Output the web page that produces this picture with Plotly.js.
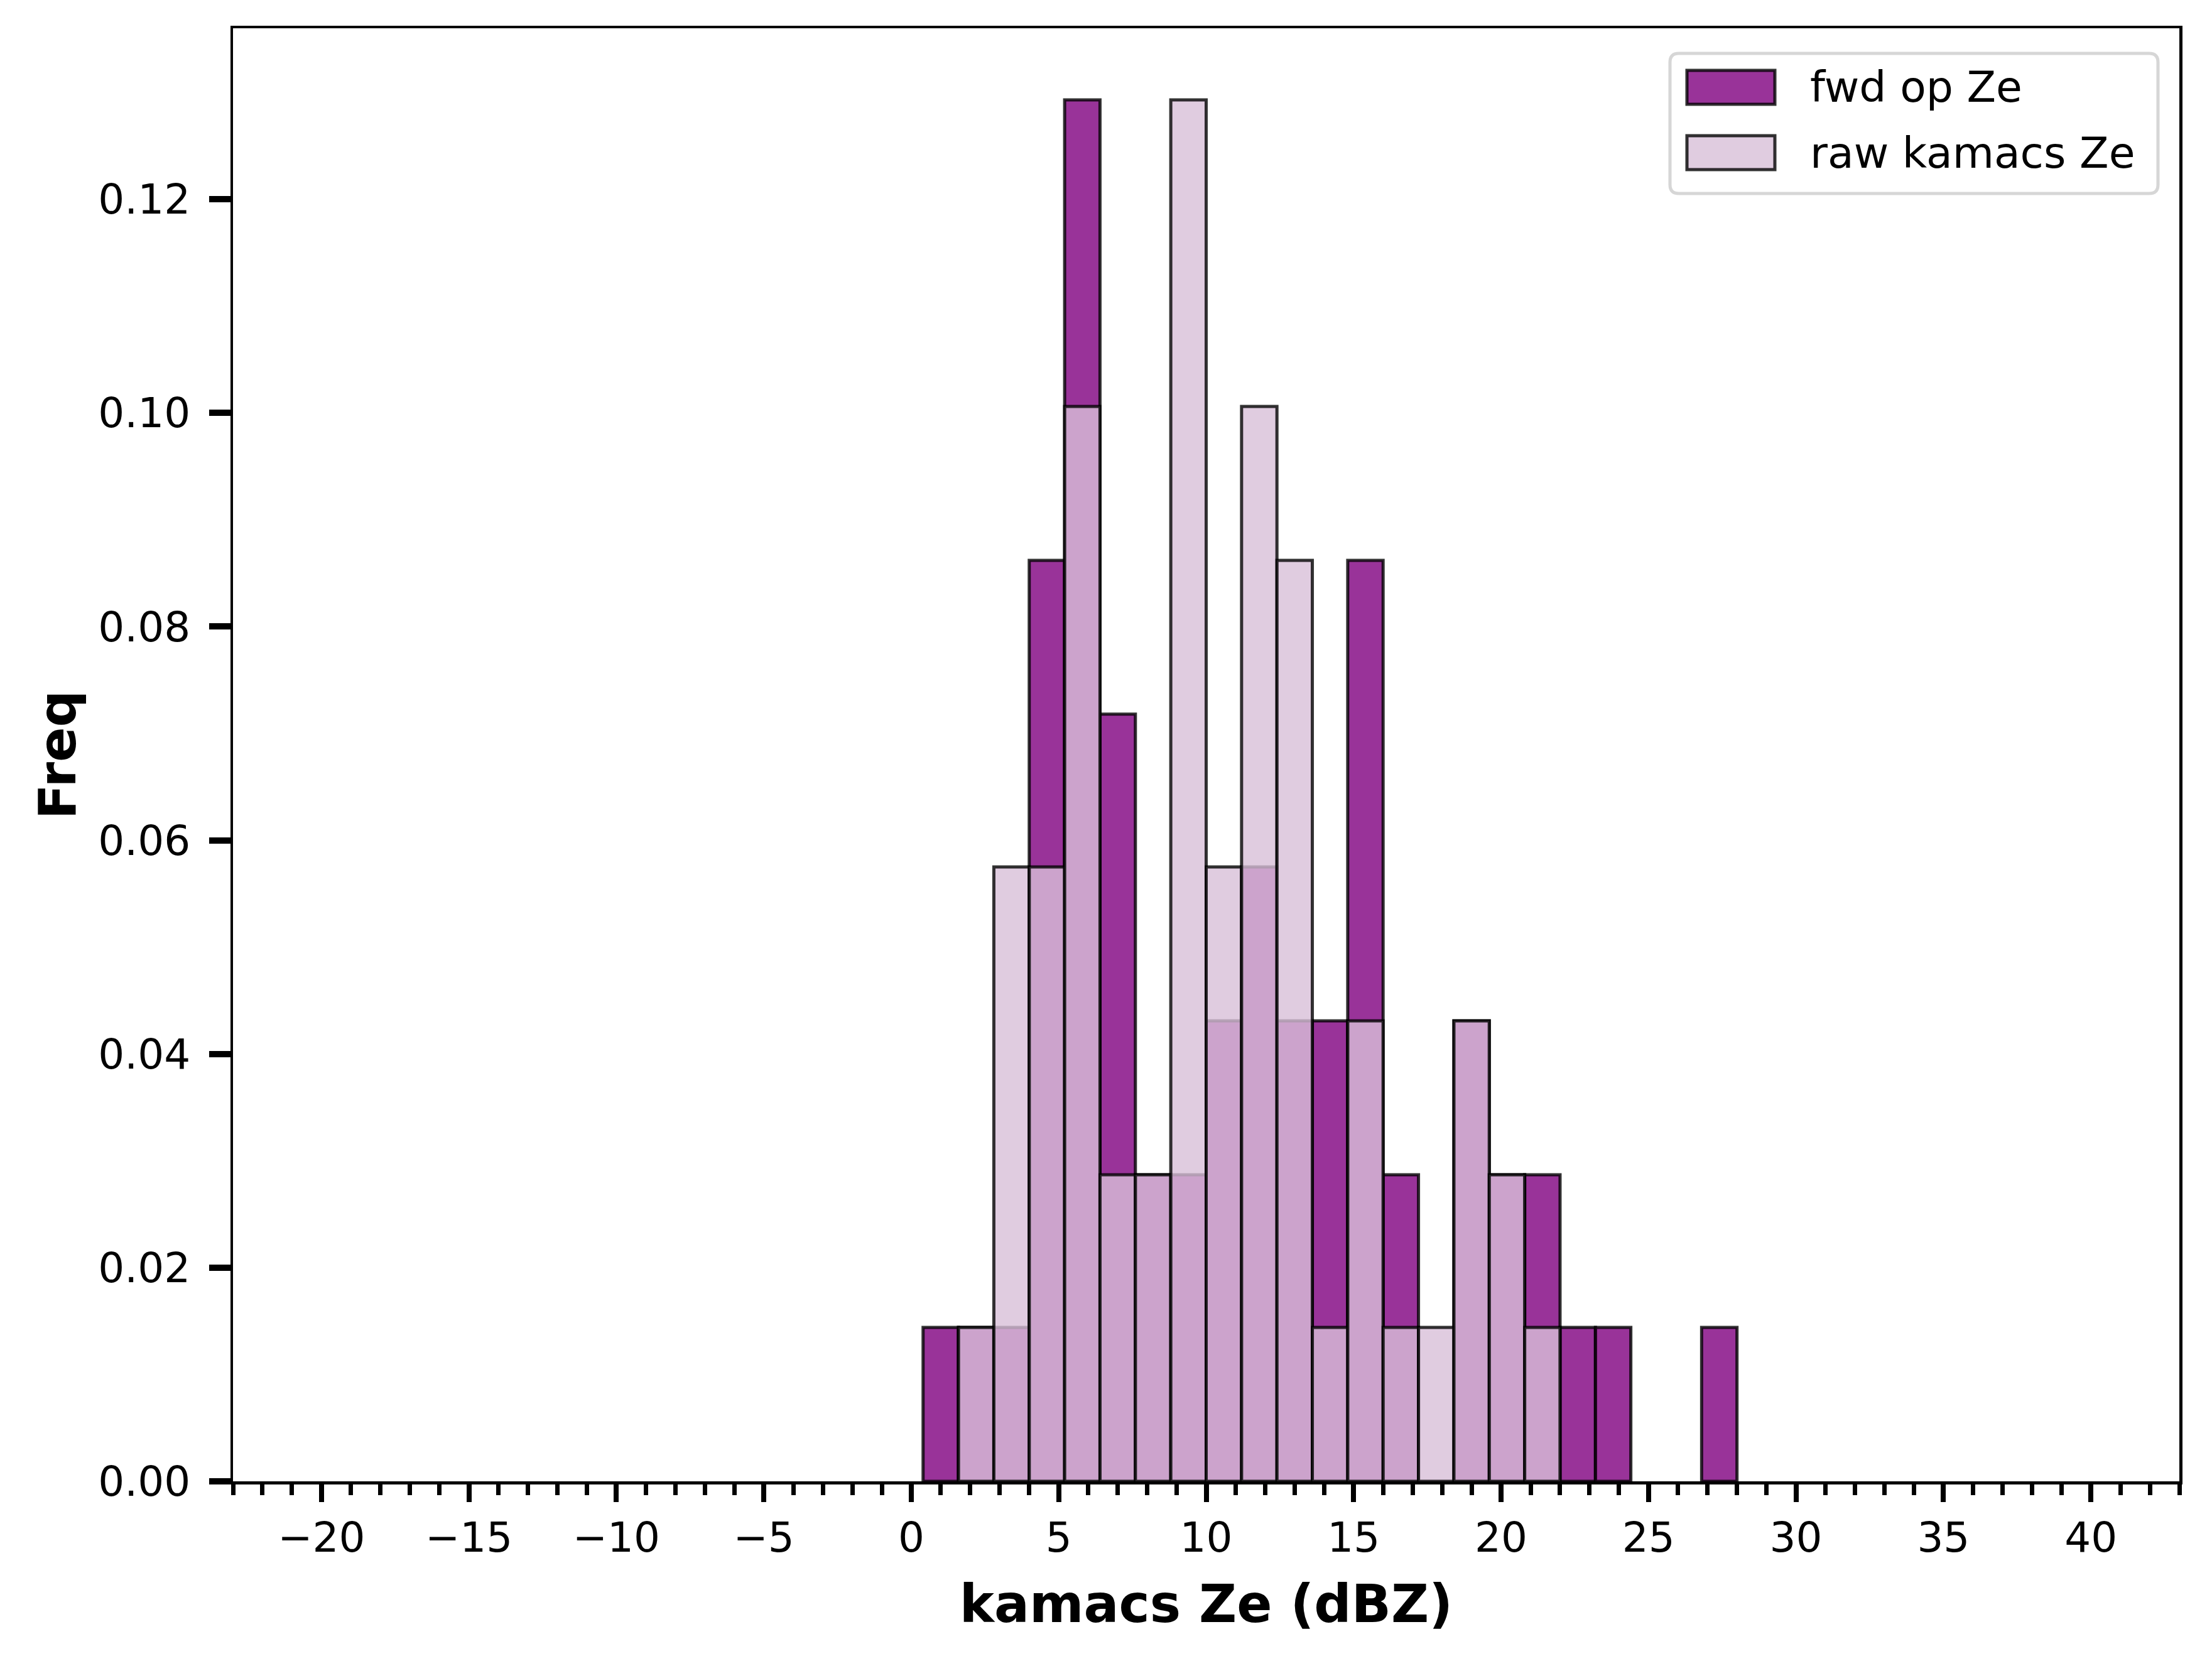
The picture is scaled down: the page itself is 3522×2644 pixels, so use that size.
<!DOCTYPE html>
<html>
<head>
<meta charset="utf-8">
<script src="https://cdn.plot.ly/plotly-3.0.1.min.js"></script>
<style>
  html, body { margin: 0; padding: 0; background: #fff; }
  #hist { width: 3522px; height: 2644px; }
</style>
</head>
<body>
<div id="hist"></div>
<script>
// bin centres (dBZ), bin width 1.2
var binCenters = [1.0, 2.2, 3.4, 4.6, 5.8, 7.0, 8.2, 9.4, 10.6, 11.8, 13.0, 14.2,
                  15.4, 16.6, 17.8, 19.0, 20.2, 21.4, 22.6, 23.8, 25.0, 26.2, 27.4];
var binWidth = 1.2;

var fwdFreq = [0.0144, 0.0144, 0.0144, 0.0862, 0.1293, 0.0718, 0.0287, 0.0287, 0.0431, 0.0575, 0.0431, 0.0431,
               0.0862, 0.0287, 0, 0.0431, 0.0287, 0.0287, 0.0144, 0.0144, 0, 0, 0.0144];
var rawFreq = [0, 0.0144, 0.0575, 0.0575, 0.1006, 0.0287, 0.0287, 0.1293, 0.0575, 0.1006, 0.0862, 0.0144,
               0.0431, 0.0144, 0.0144, 0.0431, 0.0287, 0.0144, 0, 0, 0, 0, 0];

var xTicks = [-20, -15, -10, -5, 0, 5, 10, 15, 20, 25, 30, 35, 40];
var yTicks = [0, 0.02, 0.04, 0.06, 0.08, 0.10, 0.12];

var seriesNames = ['fwd op Ze', 'raw kamacs Ze'];
var seriesFill = ['rgba(128,0,128,0.8)', 'rgba(216,191,216,0.8)'];
var edge = 'rgba(0,0,0,0.8)';

var fnt = 'DejaVu Sans, Liberation Sans, sans-serif';

// empty bins are not drawn
function nz(arr) { return arr.map(function (v) { return v === 0 ? null : v; }); }

var trace1 = {
  x: binCenters,
  y: nz(fwdFreq),
  width: binWidth,
  type: 'bar',
  name: seriesNames[0],
  marker: {color: seriesFill[0], line: {color: edge, width: 5}},
  showlegend: false
};

var trace2 = {
  x: binCenters,
  y: nz(rawFreq),
  width: binWidth,
  type: 'bar',
  name: seriesNames[1],
  marker: {color: seriesFill[1], line: {color: edge, width: 5}},
  showlegend: false
};

var data = [trace1, trace2];

// legend drawn by hand so it looks like the matplotlib one
var plotW = 3522 - 371 - 52;
var plotH = 2644 - 45 - 286;
function px(v) { return v / plotW; }
function py(v) { return 1 - v / plotH; }

var lx0 = px(2659 - 371), lx1 = px(3436 - 371);
var ly0 = py(85 - 45), ly1 = py(308 - 45);
var rx = px(14), ry = 14 / plotH;
var boxPath = 'M' + (lx0 + rx) + ',' + ly0 +
  ' L' + (lx1 - rx) + ',' + ly0 + ' Q' + lx1 + ',' + ly0 + ' ' + lx1 + ',' + (ly0 - ry) +
  ' L' + lx1 + ',' + (ly1 + ry) + ' Q' + lx1 + ',' + ly1 + ' ' + (lx1 - rx) + ',' + ly1 +
  ' L' + (lx0 + rx) + ',' + ly1 + ' Q' + lx0 + ',' + ly1 + ' ' + lx0 + ',' + (ly1 + ry) +
  ' L' + lx0 + ',' + (ly0 - ry) + ' Q' + lx0 + ',' + ly0 + ' ' + (lx0 + rx) + ',' + ly0 + ' Z';

var shapes = [{
  type: 'path', xref: 'paper', yref: 'paper', path: boxPath,
  fillcolor: 'rgba(255,255,255,0.8)', line: {color: '#d6d6d6', width: 5}
}];
var annotations = [];
var rowY = [139, 243];
for (var i = 0; i < seriesNames.length; i++) {
  shapes.push({
    type: 'rect', xref: 'paper', yref: 'paper',
    x0: px(2686 - 371), x1: px(2826 - 371),
    y0: py(rowY[i] - 27 - 45), y1: py(rowY[i] + 27 - 45),
    fillcolor: seriesFill[i], line: {color: edge, width: 5}
  });
  annotations.push({
    xref: 'paper', yref: 'paper', x: px(2880 - 371), y: py(rowY[i] - 45),
    xanchor: 'left', yanchor: 'middle', showarrow: false,
    text: seriesNames[i], font: {family: fnt, size: 68, color: '#000'}
  });
}

var layout = {
  width: 3522,
  height: 2644,
  margin: {l: 371, r: 52, t: 45, b: 286, pad: 0},
  paper_bgcolor: '#fff',
  plot_bgcolor: '#fff',
  barmode: 'overlay',
  bargap: 0,
  font: {family: fnt, color: '#000'},
  xaxis: {
    range: [-23, 43],
    tickvals: xTicks,
    ticktext: xTicks.map(function (v) { return v < 0 ? '\u2212' + Math.abs(v) : String(v); }),
    ticks: 'outside', ticklen: 28, tickwidth: 8, tickcolor: '#000',
    minor: {dtick: 1, ticks: 'outside', ticklen: 17, tickwidth: 7, tickcolor: '#000'},
    tickfont: {family: fnt, size: 66, color: '#000'},
    showline: true, linecolor: '#000', linewidth: 4.5, mirror: true,
    showgrid: false, zeroline: false,
    title: {text: '<b>kamacs Ze (dBZ)</b>', font: {family: fnt, size: 83, color: '#000'}, standoff: 40}
  },
  yaxis: {
    range: [0, 0.136],
    tickvals: yTicks,
    tickformat: '.2f',
    ticks: 'outside', ticklen: 34, tickwidth: 10, tickcolor: '#000',
    ticklabelstandoff: 16,
    tickfont: {family: fnt, size: 66, color: '#000'},
    showline: true, linecolor: '#000', linewidth: 4.5, mirror: true,
    showgrid: false, zeroline: false,
    title: {text: '<b>Freq</b>', font: {family: fnt, size: 82, color: '#000'}, standoff: 10}
  },
  shapes: shapes,
  annotations: annotations
};

Plotly.newPlot('hist', data, layout, {staticPlot: true});
</script>
</body>
</html>
